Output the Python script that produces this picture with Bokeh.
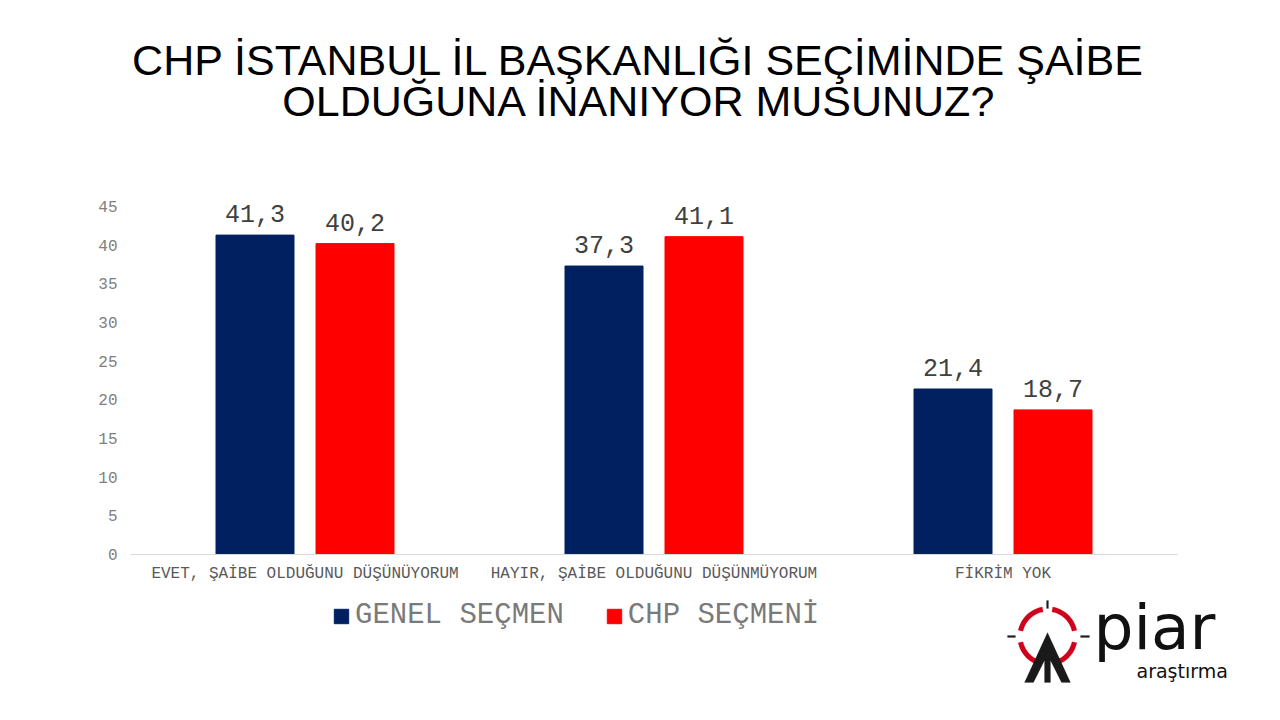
import numpy as np
from bokeh.plotting import figure
from bokeh.models import (ColumnDataSource, FactorRange, Range1d, FixedTicker, Legend,
                          LegendItem, LabelSet, Label, PolyAnnotation)
from bokeh.core.properties import value
from bokeh.transform import dodge
from bokeh.embed import file_html
from bokeh.resources import INLINE

# ---- data ----
categories = ["EVET, ŞAİBE OLDUĞUNU DÜŞÜNÜYORUM",
              "HAYIR, ŞAİBE OLDUĞUNU DÜŞÜNMÜYORUM",
              "FİKRİM YOK"]
genel_secmen = [41.3, 37.3, 21.4]
chp_secmeni = [40.2, 41.1, 18.7]
series_names = ["GENEL SEÇMEN", "CHP SEÇMENİ"]
y_ticks = [0, 5, 10, 15, 20, 25, 30, 35, 40, 45]
title_lines = ["CHP İSTANBUL İL BAŞKANLIĞI SEÇİMİNDE ŞAİBE",
               "OLDUĞUNA İNANIYOR MUSUNUZ?"]

def fmt(v):
    return f"{v:.1f}".replace(".", ",")

src = ColumnDataSource(dict(
    cat=categories,
    genel=genel_secmen,
    chp=chp_secmeni,
    genel_lbl=[fmt(v) for v in genel_secmen],
    chp_lbl=[fmt(v) for v in chp_secmeni],
))

NAVY = "#002060"
RED = "#FF0000"
MONO = "Liberation Mono"

# layout geometry (pixels)
W, H = 1264, 704
PX_LEFT, PX_RIGHT = 130, 1177        # extent of the three categories
CAT_W = (PX_RIGHT - PX_LEFT) / 3
Y0, Y45 = 554, 206                   # pixel rows of 0 and 45
PPU = (Y0 - Y45) / 45
PAD = (W - PX_RIGHT) / CAT_W         # symmetric padding in category units
FRAME_LEFT = PX_LEFT - (W - PX_RIGHT)

def dx(px):
    return (px - PX_LEFT) / CAT_W

def dy(py):
    return (Y0 - py) / PPU

p = figure(width=W, height=H, output_backend="svg", toolbar_location=None,
           x_range=FactorRange(factors=categories, range_padding=PAD,
                               range_padding_units="absolute"),
           y_range=Range1d(dy(H), dy(0)),
           min_border_left=FRAME_LEFT, min_border_right=0,
           min_border_top=0, min_border_bottom=0)
p.outline_line_color = None
p.xgrid.grid_line_color = None
p.ygrid.grid_line_color = None
p.background_fill_color = "white"
p.border_fill_color = "white"

OFF = 50 / CAT_W
BW = 78 / CAT_W
r1 = p.vbar(x=dodge("cat", -OFF, range=p.x_range), top="genel", width=BW,
            source=src, color=NAVY)
r2 = p.vbar(x=dodge("cat", OFF, range=p.x_range), top="chp", width=BW,
            source=src, color=RED)

for col, off in (("genel", -OFF), ("chp", OFF)):
    p.add_layout(LabelSet(x=dodge("cat", off, range=p.x_range), y=col,
                          text=col + "_lbl", source=src, y_offset=13,
                          text_align="center", text_baseline="alphabetic",
                          text_font=value(MONO), text_font_size="25px",
                          text_color="#404040"))

# axes (crossing at the origin inside the frame)
p.yaxis.fixed_location = 0
p.yaxis.ticker = FixedTicker(ticks=y_ticks)
p.yaxis.axis_line_color = None
p.yaxis.major_tick_line_color = None
p.yaxis.minor_tick_line_color = None
p.yaxis.major_tick_out = 0
p.yaxis.major_label_standoff = 13
p.yaxis.major_label_text_font = MONO
p.yaxis.major_label_text_font_size = "16px"
p.yaxis.major_label_text_color = "#808080"

p.xaxis.fixed_location = 0
p.xaxis.bounds = (0, 3)
p.xaxis.axis_line_color = "#d9d9d9"
p.xaxis.axis_line_width = 1
p.xaxis.major_tick_line_color = None
p.xaxis.minor_tick_line_color = None
p.xaxis.major_tick_out = 0
p.xaxis.major_label_standoff = 10
p.xaxis.major_label_text_font = MONO
p.xaxis.major_label_text_font_size = "16px"
p.xaxis.major_label_text_color = "#595959"

# legend
legend = Legend(items=[LegendItem(label=series_names[0], renderers=[r1]),
                       LegendItem(label=series_names[1], renderers=[r2])],
                orientation="horizontal", location=(332 - FRAME_LEFT, H - 632),
                glyph_width=18, glyph_height=18, label_standoff=5, spacing=41,
                padding=0, margin=0, border_line_color=None,
                background_fill_alpha=0,
                label_text_font=MONO, label_text_font_size="29px",
                label_text_color="#7a7a7a")
p.add_layout(legend)

# title
for line, base in zip(title_lines, (59, 100)):
    p.add_layout(Label(x=dx(639), y=dy(base), text=line, text_align="center",
                       text_baseline="alphabetic", text_font="Liberation Sans",
                       text_font_size="43px", text_color="black"))

# logo
cx, cy = 1047, 636
def ring(a0, a1, r_in=25, r_out=30):
    a = np.radians(np.linspace(a0, a1, 20))
    xs = list(cx + r_out * np.cos(a)) + list(cx + r_in * np.cos(a[::-1]))
    ys = list(cy - r_out * np.sin(a)) + list(cy - r_in * np.sin(a[::-1]))
    return [dx(v) for v in xs], [dy(v) for v in ys]

for a0, a1 in ((12, 80), (100, 168), (192, 245), (295, 348)):
    xs, ys = ring(a0, a1)
    p.add_layout(PolyAnnotation(xs=xs, ys=ys, fill_color="#d0021b", fill_alpha=1,
                                line_color="#d0021b", line_width=0.5))

def poly(pts, color="#1a1a1a"):
    p.add_layout(PolyAnnotation(xs=[dx(a) for a, b in pts], ys=[dy(b) for a, b in pts],
                                fill_color=color, fill_alpha=1, line_color=color,
                                line_width=0.5))

poly([(1007, 635), (1015, 635), (1015, 637), (1007, 637)])
poly([(1080, 635), (1089, 635), (1089, 637), (1080, 637)])
poly([(1046, 600), (1048, 600), (1048, 608), (1046, 608)])
poly([(1047, 632), (1070, 682), (1061, 682), (1050, 660), (1050, 682),
      (1044, 682), (1044, 660), (1033, 682), (1024, 682)])

p.add_layout(Label(x=dx(1093), y=dy(627), text="piar", text_font="DejaVu Sans",
                   text_font_size="63px", text_color="#111111",
                   text_baseline="alphabetic"))
p.add_layout(Label(x=dx(1136), y=dy(670), text="araştırma", text_font="DejaVu Sans",
                   text_font_size="19px", text_color="#111111",
                   text_baseline="alphabetic"))

open("out.html", "w").write(file_html(p, INLINE))
